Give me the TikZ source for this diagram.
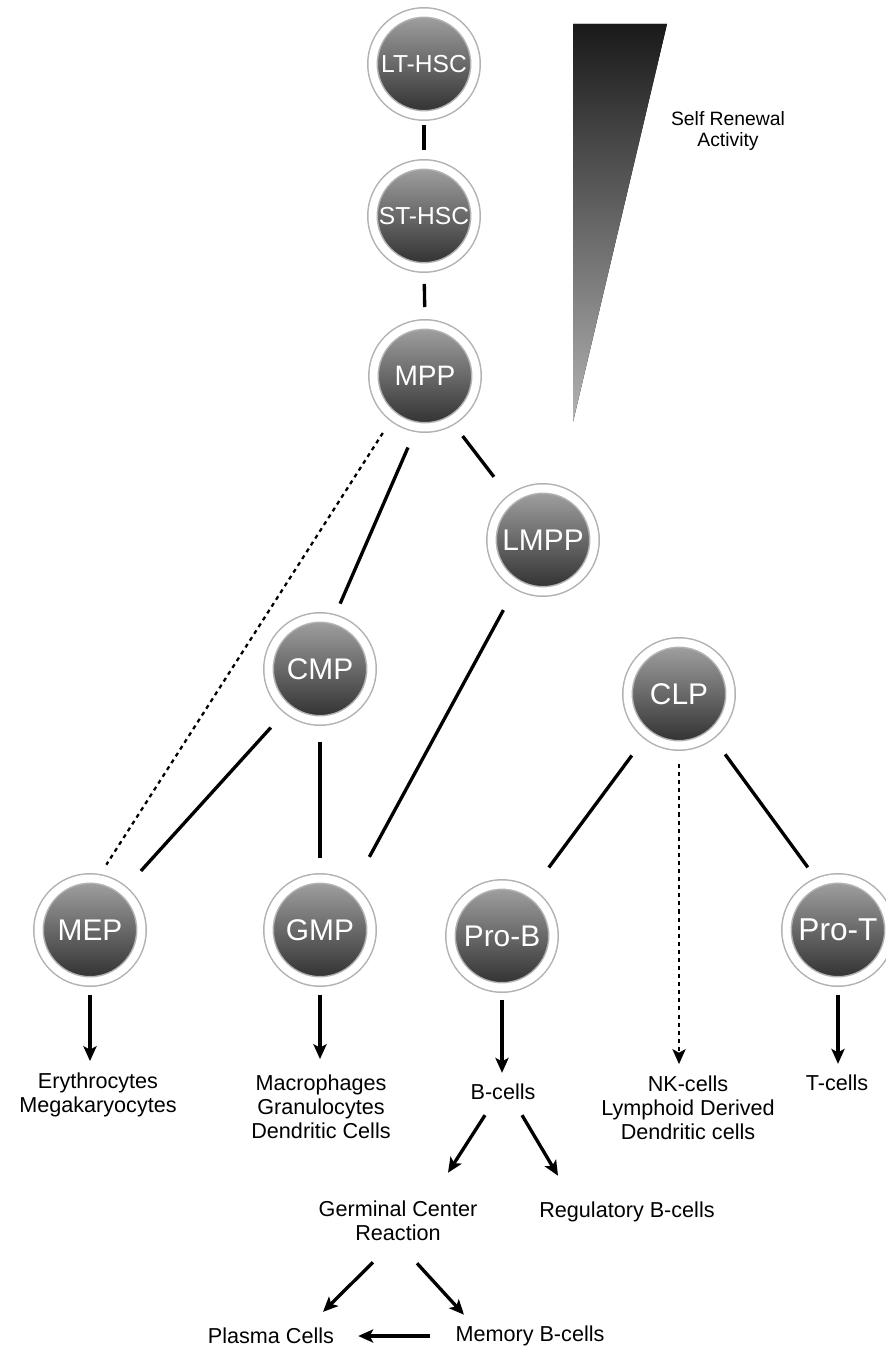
\documentclass[tikz,border=0pt]{standalone}
\usepackage{fontspec}
\setsansfont{Liberation Sans}
\usepackage{tikz}
\usetikzlibrary{arrows.meta,calc}

\begin{document}
\begin{tikzpicture}[x=.02cm,y=-.02cm,>={Stealth[length=8.5pt,width=7.5pt,inset=2pt]},
 cell/.style={circle,minimum size=2.06cm,inner sep=0pt,outer sep=0pt,
   top color=black!36,bottom color=black!82,draw=black!30,line width=.03cm,
   double=white,double distance=.16cm,text=white,
   font=\sffamily\fontsize{#1}{#1}\selectfont},
 cell/.default=17,
 link/.style={line width=1.9pt,draw=black},
 dots/.style={line width=1.3pt,dash pattern=on 2.3pt off 2.3pt},
 fate/.style={->,line width=1.9pt},
 every node/.style={font=\sffamily\fontsize{12.3}{13.8}\selectfont,align=center}]
\useasboundingbox (0,0) rectangle (885,1351);
% self renewal wedge
\fill[top color=black!90,bottom color=black!30] (573,24) -- (667,24) -- (573,422) -- cycle;
\node[font=\sffamily\fontsize{11}{12.5}\selectfont] (renew) at (728,131) {Self Renewal\\Activity};
% progenitors
\node[cell=14] (LT) at (424,64) {LT-HSC};
\node[cell=14] (ST) at (424,216) {ST-HSC};
\node[cell=16] (MPP) at (425,376) {MPP};
\node[cell] (LMPP) at (543,540) {LMPP};
\node[cell] (CMP) at (320,669) {CMP};
\node[cell] (CLP) at (679,694) {CLP};
\node[cell] (MEP) at (90,930) {MEP};
\node[cell] (GMP) at (320,930) {GMP};
\node[cell] (ProB) at (502,936) {Pro-B};
\node[cell=18] (ProT) at (838,930) {Pro-T};
% mature cells
\node (ery) at (98,1095) {Erythrocytes\\Megakaryocytes};
\node (mac) at (321,1107) {Macrophages\\Granulocytes\\Dendritic Cells};
\node (bc) at (503,1092) {B-cells};
\node (nk) at (688,1108) {NK-cells\\Lymphoid Derived\\Dendritic cells};
\node (tc) at (837,1083) {T-cells};
\node (gc) at (398,1221) {Germinal Center\\Reaction};
\node (reg) at (627,1212) {Regulatory B-cells};
\node (pc) at (271,1336) {Plasma Cells};
\node (mb) at (530,1336) {Memory B-cells};
% lineage links
\draw[link,shorten <=.19cm,shorten >=.29cm] (LT.south) -- (ST.north);
\draw[link,shorten <=.33cm,shorten >=.35cm] (ST.south) -- (MPP.north);
\draw[dots,shorten <=.39cm,shorten >=.34cm] (MPP.232) -- (MEP.82);
\draw[link,shorten <=.45cm,shorten >=.34cm] (MPP.261) -- (CMP.75);
\draw[link,shorten <=.39cm,shorten >=.57cm] (MPP.300) -- (LMPP.128);
\draw[link,shorten <=.58cm,shorten >=.74cm] (LMPP.240) -- (GMP.52);
\draw[link,shorten <=.5cm,shorten >=.53cm] (CMP.231) -- (MEP.50);
\draw[link,shorten <=.43cm,shorten >=.41cm] (CMP.south) -- (GMP.north);
\draw[link,shorten <=.52cm,shorten >=.63cm] (CLP.232) -- (ProB.57);
\draw[link,shorten <=.49cm,shorten >=.37cm] (CLP.308) -- (ProT.112);
% fates
\draw[fate,shorten <=.27cm,shorten >=.11cm] (MEP.south) -- (MEP.south |- ery.north);
\draw[fate,shorten <=.27cm,shorten >=.19cm] (GMP.south) -- (GMP.south |- mac.north);
\draw[fate,shorten <=.25cm,shorten >=.1cm] (ProB.south) -- (ProB.south |- bc.north);
\draw[fate,dots,shorten <=.37cm,shorten >=.11cm] (CLP.south) -- (CLP.south |- nk.north);
\draw[fate,shorten <=.27cm,shorten >=.1cm] (ProT.south) -- (ProT.south |- tc.north);
\draw[fate] ([shift={(-18,9)}]bc.south) -- ([shift={(50,-22)}]gc.north);
\draw[fate] ([shift={(19,9)}]bc.south) -- ([shift={(-69,-20)}]reg.north);
\draw[fate] ([shift={(-25,15)}]gc.south) -- ([shift={(52,-10)}]pc.north);
\draw[fate] ([shift={(19,16)}]gc.south) -- ([shift={(-66,-5)}]mb.north);
\draw[fate,shorten <=.38cm,shorten >=.36cm] (mb.west) -- (pc.east);
\end{tikzpicture}
\end{document}
